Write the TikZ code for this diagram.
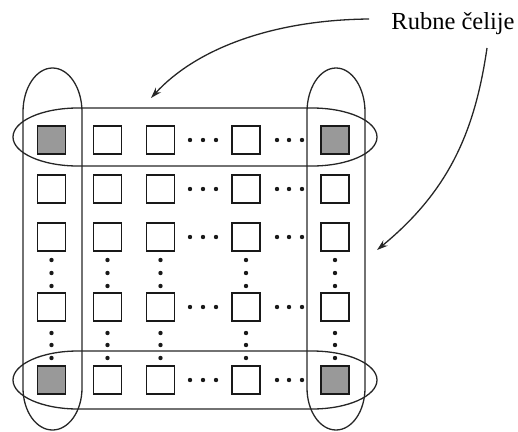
\documentclass[tikz,border=0pt]{standalone}
\usepackage{fontspec}
\setmainfont{Liberation Serif}
\usetikzlibrary{arrows.meta}
\definecolor{cellgray}{RGB}{153,153,153}
\tikzset{
  cell/.style={draw=black!90, line width=1.4pt, minimum size=28pt, inner sep=0pt, fill=white},
  corner/.style={cell, fill=cellgray},
  group/.style={draw=black!85, line width=1.3pt},
  pointer/.style={draw=black!85, line width=1.3pt, -{Stealth[length=11pt,width=7pt]}},
  dot/.style={fill=black!90}
}
\begin{document}
\begin{tikzpicture}[x=1pt,y=1pt]
\useasboundingbox (0,0) rectangle (518,-431);
% groups
\draw[group] (78,-108) -- (312,-108) arc[start angle=90,end angle=-90,x radius=65,y radius=29]
  -- (78,-166) arc[start angle=270,end angle=90,x radius=65,y radius=29] -- cycle;
\draw[group] (78,-351) -- (312,-351) arc[start angle=90,end angle=-90,x radius=65,y radius=29]
  -- (78,-409) arc[start angle=270,end angle=90,x radius=65,y radius=29] -- cycle;
\draw[group] (23,-112) arc[start angle=180,end angle=0,x radius=29.5,y radius=44]
  -- (82,-388) arc[start angle=0,end angle=-180,x radius=29.5,y radius=42] -- cycle;
\draw[group] (307,-112) arc[start angle=180,end angle=0,x radius=29,y radius=44]
  -- (365,-388) arc[start angle=0,end angle=-180,x radius=29,y radius=42] -- cycle;
% cells
\foreach \c/\x in {1/51.5,2/107.5,3/160.5,4/246,5/335}{
  \foreach \r/\y in {1/140,2/189,3/237,4/307,5/380}{
    \node[cell] (c\r\c) at (\x,-\y) {};
  }
}
\foreach \n in {c11,c15,c51,c55}{\node[corner] at (\n) {};}
% horizontal dots
\foreach \y in {140,189,237,307,380}{
  \foreach \x in {190,203,216,277,289,302}{\fill[dot] (\x,-\y) circle (2.2pt);}
}
% vertical dots
\foreach \x in {51.5,107.5,160.5,246,335}{
  \foreach \y in {260,273,286,333,345,358}{\fill[dot] (\x,-\y) circle (2.2pt);}
}
% label and pointers
\node[anchor=base, inner sep=0pt, font=\fontsize{24.5}{27}\selectfont] (lbl) at (453,-29) {Rubne čelije};
\coordinate (s1) at (369,-19);
\coordinate (e1) at (151,-98);
\coordinate (s2) at (487,-48);
\coordinate (e2) at (377,-250);
\draw[pointer] (s1) .. controls (270,-20) and (195,-50) .. (e1);
\draw[pointer] (s2) .. controls (475,-130) and (450,-190) .. (e2);
\end{tikzpicture}
\end{document}
